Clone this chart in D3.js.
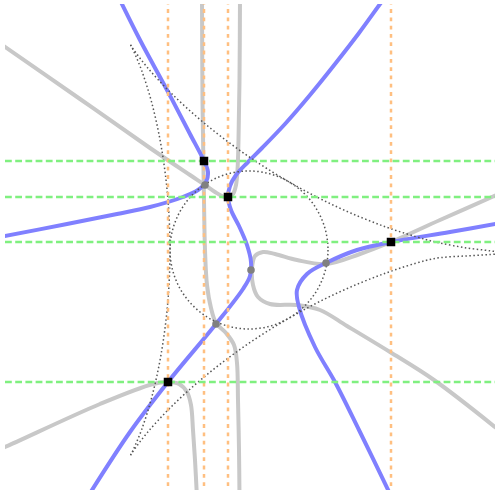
<!DOCTYPE html>
<html lang="en">
<head>
<meta charset="utf-8">
<title>Deltoid, incircle and cubic branches</title>
<script src="https://d3js.org/d3.v7.min.js"></script>
<style>
    body { margin: 0; background: #fff; }
    svg { display: block; }
</style>
</head>
<body>
<script>
    // plot coordinates: origin near the middle, y pointing up
    var w = 497, h = 494;

    var xLimits = [-243, 247];
    var yLimits = [246, -240];

    // dashed guide lines
    var vLines = [-80, -44, -20, 143];
    var hLines = [89, 53, 8, -132];

    // markers
    var squarePts = [[-44, 89], [-20, 53], [143, 8], [-80, -132]];
    var dotPts = [[-43, 65], [-32, -74], [3, -20], [78, -13]];

    // incircle and deltoid (points relative to the centre)
    var centre = [1, 0];
    var circleR = [79];
    var deltoidTop = [[253, -2.5], [241, -0.8], [216, 2.3], [191, 7], [176.3, 10.6], [134.8, 23.8], [87.8, 43.2],
        [39.5, 68.4], [-6.5, 97.7], [-46.8, 128.6], [-79, 158], [-101.7, 182.6], [-114.6, 199.3],
        [-117.6, 203.7], [-118.5, 205.2]];
    var deltoidLeft = [[-118.5, 205.2], [-117.6, 203.7], [-115.3, 198.8], [-107.3, 179.4], [-97.3, 147.4],
        [-88, 104.8], [-81.4, 54.5], [-79, 0], [-81.4, -54.5], [-88, -104.8], [-97.3, -147.4],
        [-107.3, -179.4], [-115.3, -198.8], [-117.6, -203.7], [-118.5, -205.2]];
    var deltoidBottom = [[-118.5, -205.2], [-117.6, -203.7], [-114.6, -199.3], [-101.7, -182.6], [-79, -158],
        [-46.8, -128.6], [-6.5, -97.7], [39.5, -68.4], [87.8, -43.2], [134.8, -23.8], [176.3, -10.6],
        [191, -7.7], [216, -6], [241, -4.5], [253, -4]];

    // blue branches
    var blueA = [[-130, 254], [-108, 210], [-81, 160], [-58, 116], [-44, 89], [-40, 78], [-42, 68],
        [-50, 60], [-65, 53], [-98, 43], [-131, 36], [-181, 26], [-248, 13], [-253, 12]];
    var blueB = [[139, 255], [135, 250], [111, 217], [87, 186], [62, 155], [37, 126], [14, 102], [0, 88],
        [-12, 75], [-18, 64], [-20, 53], [-17, 40], [-9, 24], [-1, 5], [3, -12], [2, -26], [-5, -39],
        [-32, -74], [-80, -132], [-118, -182], [-161, -248]];
    var blueC = [[253, 27], [202, 18], [143, 8], [109, 0], [78, -13], [59, -24], [49, -40], [51, -57],
        [67, -97], [87, -132], [111, -180], [144, -248]];

    // grey branches
    var greyA = [[-253, 210], [-168, 151], [-98, 102], [-58, 75], [-43, 65], [-33, 58], [-26, 54],
        [-20, 52.5], [-15, 56], [-12, 65], [-10.5, 80], [-9.5, 110], [-8.5, 170], [-8, 254]];
    var greyB = [[-46, 254], [-45.5, 150], [-44.5, 80], [-44, 50], [-43, 0], [-41, -35], [-37, -58],
        [-32, -73], [-22, -83], [-14, -95], [-11, -113], [-10, -150], [-9, -200], [-8.5, -248]];
    var greyC = [[-253, -201], [-243, -197], [-148, -154], [-95, -134], [-80, -132], [-69, -134],
        [-61, -142], [-57, -155], [-55, -180], [-53, -210], [-51, -248]];
    var greyD = [[253, 57], [192, 30], [143, 8], [112, -4], [78, -14], [49, -10], [27, -4], [15, -2],
        [7, -6], [4, -18], [5, -35], [10, -47], [22, -54], [49, -55], [72, -60], [99, -76], [142, -102],
        [186, -130], [247, -177], [253, -182]];

    var xScale = d3.scaleLinear().domain(xLimits).range([5, 495]);
    var yScale = d3.scaleLinear().domain(yLimits).range([4, 490]);

    var svg = d3.select("body")
        .append("svg")
        .attr("width", w)
        .attr("height", h);

    svg.append("clipPath")
        .attr("id", "plotArea")
        .append("rect")
        .attr("x", xScale(xLimits[0]))
        .attr("y", yScale(yLimits[0]))
        .attr("width", xScale(xLimits[1]) - xScale(xLimits[0]))
        .attr("height", yScale(yLimits[1]) - yScale(yLimits[0]));

    var plot = svg.append("g").attr("clip-path", "url(#plotArea)");

    var line = d3.line()
        .x(function(d) { return xScale(d[0]); })
        .y(function(d) { return yScale(d[1]); })
        .curve(d3.curveCatmullRom.alpha(0.5));

    var shifted = d3.line()
        .x(function(d) { return xScale(centre[0] + d[0]); })
        .y(function(d) { return yScale(centre[1] + d[1]); })
        .curve(d3.curveCatmullRom.alpha(0.5));

    //grey curves first
    plot.selectAll("path.grey")
        .data([greyA, greyB, greyC, greyD])
        .enter()
        .append("path")
        .attr("class", "grey")
        .attr("d", line)
        .attr("fill", "none")
        .attr("stroke", "#c8c8c8")
        .attr("stroke-width", 4);

    plot.selectAll("path.blue")
        .data([blueA, blueB, blueC])
        .enter()
        .append("path")
        .attr("class", "blue")
        .attr("d", line)
        .attr("fill", "none")
        .attr("stroke", "#8080ff")
        .attr("stroke-width", 4);

    //dotted deltoid and incircle
    plot.selectAll("path.deltoid")
        .data([deltoidTop, deltoidLeft, deltoidBottom])
        .enter()
        .append("path")
        .attr("class", "deltoid")
        .attr("d", shifted)
        .attr("fill", "none")
        .attr("stroke", "#555")
        .attr("stroke-width", 1.5)
        .attr("stroke-dasharray", "1.5,2.5");

    plot.append("circle")
        .attr("cx", xScale(centre[0]))
        .attr("cy", yScale(centre[1]))
        .attr("r", xScale(circleR[0]) - xScale(0))
        .attr("fill", "none")
        .attr("stroke", "#555")
        .attr("stroke-width", 1.5)
        .attr("stroke-dasharray", "1.5,2.5");

    //orange verticals, drawn from the bottom up
    plot.selectAll("line.v")
        .data(vLines)
        .enter()
        .append("line")
        .attr("class", "v")
        .attr("x1", function(d) { return xScale(d); })
        .attr("x2", function(d) { return xScale(d); })
        .attr("y1", yScale(yLimits[1]))
        .attr("y2", yScale(yLimits[0]))
        .attr("stroke", "#ffbf80")
        .attr("stroke-width", 2.5)
        .attr("stroke-dasharray", "3.8,4.5")
        .attr("stroke-dashoffset", 4.3);

    plot.selectAll("line.h")
        .data(hLines)
        .enter()
        .append("line")
        .attr("class", "h")
        .attr("x1", xScale(xLimits[0]))
        .attr("x2", xScale(xLimits[1]))
        .attr("y1", function(d) { return yScale(d); })
        .attr("y2", function(d) { return yScale(d); })
        .attr("stroke", "#80f080")
        .attr("stroke-width", 2.5)
        .attr("stroke-dasharray", "6.8,3.4");

    svg.selectAll("circle.dot")
        .data(dotPts)
        .enter()
        .append("circle")
        .attr("class", "dot")
        .attr("cx", function(d) { return xScale(d[0]); })
        .attr("cy", function(d) { return yScale(d[1]); })
        .attr("r", 3.8)
        .attr("fill", "#808080");

    var s = 8.5;
    svg.selectAll("rect.sq")
        .data(squarePts)
        .enter()
        .append("rect")
        .attr("class", "sq")
        .attr("x", function(d) { return xScale(d[0]) - s / 2; })
        .attr("y", function(d) { return yScale(d[1]) - s / 2; })
        .attr("width", s)
        .attr("height", s)
        .attr("fill", "#000");
</script>
</body>
</html>
